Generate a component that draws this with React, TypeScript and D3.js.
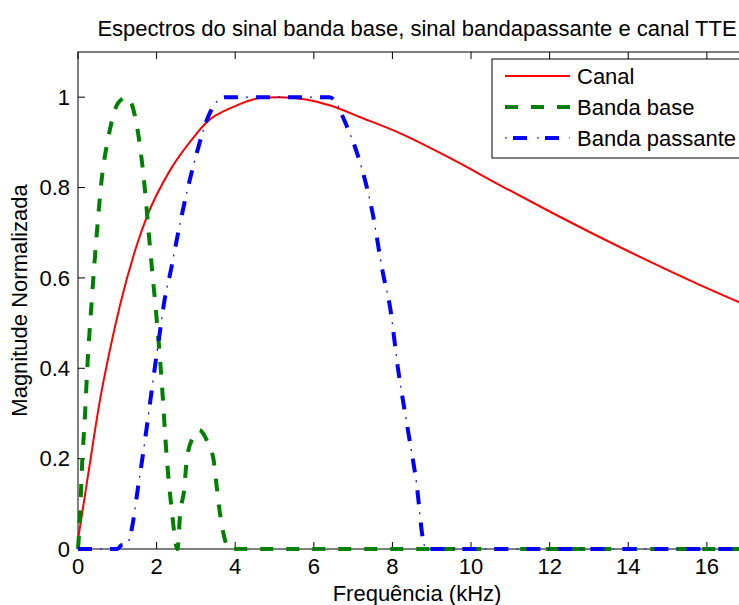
import React from 'react';
import * as d3 from 'd3';

// Frequency axis in kHz, magnitude normalised to 1
const canalFreq = [0, 0.25, 0.56, 0.81, 1.07, 1.45, 1.75, 2.34, 2.93, 3.28, 3.94, 4.63, 5.1, 5.8, 6.4, 7.2, 8.2, 9.47, 10.74, 12.0, 13.28, 14.55, 15.83, 17.25];
const canalMag = [0.02, 0.16, 0.33, 0.44, 0.54, 0.66, 0.735, 0.838, 0.91, 0.945, 0.978, 0.998, 1.0, 0.995, 0.982, 0.955, 0.92, 0.865, 0.805, 0.747, 0.69, 0.636, 0.584, 0.53];

const baseFreq = [0, 0.05, 0.1, 0.18, 0.23, 0.35, 0.48, 0.6, 0.77, 1.02, 1.25, 1.45, 1.65, 1.83, 2.13, 2.26, 2.38, 2.53, 2.6, 2.7, 2.77, 2.93, 3.08, 3.28, 3.45, 3.53, 3.61, 3.74, 3.82, 17.25];
const baseMag = [0, 0.07, 0.18, 0.3, 0.39, 0.55, 0.7, 0.816, 0.91, 0.987, 1.0, 0.958, 0.84, 0.67, 0.37, 0.2, 0.09, 0.0, 0.08, 0.13, 0.2, 0.248, 0.263, 0.24, 0.197, 0.137, 0.08, 0.02, 0, 0];

const passFreq = [0, 1.0, 1.1, 1.2, 1.3, 1.4, 1.5, 1.62, 1.75, 1.85, 1.96, 2.08, 2.2, 2.37, 2.48, 2.77, 3.02, 3.28, 3.53, 3.74, 6.4, 6.55, 6.77, 7.1, 7.35, 7.48, 7.76, 7.94, 8.14, 8.4, 8.62, 8.78, 8.85, 17.25];
const passMag = [0, 0, 0.008, 0.01, 0.02, 0.06, 0.12, 0.19, 0.27, 0.335, 0.405, 0.478, 0.55, 0.62, 0.67, 0.79, 0.876, 0.95, 0.99, 1.0, 1.0, 0.99, 0.95, 0.876, 0.8, 0.75, 0.61, 0.535, 0.4, 0.26, 0.14, 0.02, 0, 0];

const xTicks = [0, 2, 4, 6, 8, 10, 12, 14, 16];
const yTicks = [0, 0.2, 0.4, 0.6, 0.8, 1];
const legendLabels = ['Canal', 'Banda base', 'Banda passante'];

const width = 739;
const height = 605;
const left = 78, right = 756, top = 52, bottom = 549;
const font = 'Liberation Sans, Arial, Helvetica, sans-serif';
const fs = 22;

const x = d3.scaleLinear().domain([0, 17.25]).range([left, right]);
const y = d3.scaleLinear().domain([0, 1.1]).range([bottom, top]);

const line = d3.line<[number, number]>()
  .x(d => x(d[0]))
  .y(d => y(d[1]))
  .curve(d3.curveMonotoneX);

const zip = (f: number[], m: number[]) => f.map((v, i) => [v, m[i]] as [number, number]);

const App: React.FC = () => {
  const canalPath = line(zip(canalFreq, canalMag)) || '';
  const basePath = line(zip(baseFreq, baseMag)) || '';
  const passPath = line(zip(passFreq, passMag)) || '';
  const legY = [76, 107, 138];

  return (
    <svg width={width} height={height} style={{ position: 'absolute', left: 0, top: 0, background: 'white' }} fontFamily={font}>
      <defs>
        <clipPath id="plot">
          <rect x={left - 3} y={top} width={right - left + 3} height={bottom - top + 3} />
        </clipPath>
      </defs>
      <rect x={0} y={0} width={width} height={height} fill="white" />

      {/* axes box + ticks */}
      <rect x={left} y={top} width={right - left} height={bottom - top} fill="none" stroke="black" strokeWidth={1} />
      {xTicks.map(t => (
        <g key={'x' + t}>
          <line x1={x(t)} x2={x(t)} y1={bottom} y2={bottom - 7} stroke="black" />
          <line x1={x(t)} x2={x(t)} y1={top} y2={top + 7} stroke="black" />
          <text x={x(t)} y={574} fontSize={fs} textAnchor="middle">{t}</text>
        </g>
      ))}
      {yTicks.map(t => (
        <g key={'y' + t}>
          <line x1={left} x2={left + 7} y1={y(t)} y2={y(t)} stroke="black" />
          <text x={70} y={y(t)} dy="0.35em" fontSize={fs} textAnchor="end">{t}</text>
        </g>
      ))}

      <g clipPath="url(#plot)" fill="none">
        <path d={canalPath} stroke="red" strokeWidth={2} />
        <path d={basePath} stroke="#008000" strokeWidth={4} strokeDasharray="13 13" />
        <path d={passPath} stroke="blue" strokeWidth={4} strokeDasharray="14 18" />
        <path d={passPath} stroke="blue" strokeWidth={1.2} strokeDasharray="2 30" strokeDashoffset={10} />
      </g>

      {/* legend */}
      <rect x={492} y={59} width={256} height={99} fill="white" stroke="black" strokeWidth={1} />
      <line x1={505} x2={570} y1={legY[0]} y2={legY[0]} stroke="red" strokeWidth={2} />
      <line x1={505} x2={570} y1={legY[1]} y2={legY[1]} stroke="#008000" strokeWidth={4} strokeDasharray="13 13" />
      <line x1={505} x2={570} y1={legY[2]} y2={legY[2]} stroke="blue" strokeWidth={4} strokeDasharray="14 18" strokeDashoffset={24} />
      <line x1={505} x2={570} y1={legY[2]} y2={legY[2]} stroke="blue" strokeWidth={1.2} strokeDasharray="2 30" />
      {legendLabels.map((l, i) => (
        <text key={l} x={577} y={legY[i]} dy="0.35em" fontSize={fs}>{l}</text>
      ))}

      <text x={(left + right) / 2} y={36} fontSize={fs} textAnchor="middle">
        Espectros do sinal banda base, sinal bandapassante e canal TTE
      </text>
      <text x={(left + right) / 2} y={601} fontSize={fs} textAnchor="middle">Frequência (kHz)</text>
      <text transform={`translate(27,${(top + bottom) / 2}) rotate(-90)`} fontSize={fs} textAnchor="middle">
        Magnitude Normalizada
      </text>
    </svg>
  );
};

export default App;
